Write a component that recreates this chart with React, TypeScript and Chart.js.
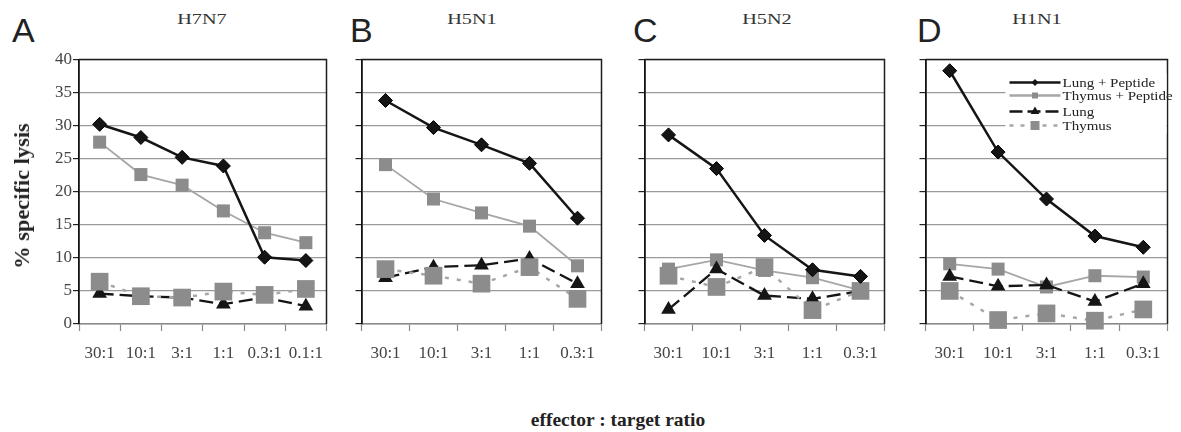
import React, { useEffect, useRef } from 'react';
import { Chart, registerables } from 'chart.js';

Chart.register(...registerables);

// Effector : target ratios
const ratiosH7N7 = ['30:1', '10:1', '3:1', '1:1', '0.3:1', '0.1:1'];
const ratiosOther = ['30:1', '10:1', '3:1', '1:1', '0.3:1'];

const yTicks = [0, 5, 10, 15, 20, 25, 30, 35, 40];

const seriesNames = ['Lung + Peptide', 'Thymus + Peptide', 'Lung', 'Thymus'];

// % specific lysis, H7N7
const h7n7LungPeptide = [30.2, 28.2, 25.2, 23.9, 10.1, 9.6];
const h7n7ThymusPeptide = [27.5, 22.6, 21.0, 17.1, 13.8, 12.3];
const h7n7Lung = [4.6, 4.2, 4.0, 3.0, 4.0, 2.7];
const h7n7Thymus = [6.4, 4.2, 4.0, 4.9, 4.4, 5.3];

// % specific lysis, H5N1
const h5n1LungPeptide = [33.8, 29.7, 27.1, 24.3, 16.0];
const h5n1ThymusPeptide = [24.1, 18.9, 16.8, 14.8, 8.8];
const h5n1Lung = [7.0, 8.6, 8.9, 9.9, 6.1];
const h5n1Thymus = [8.3, 7.3, 6.1, 8.6, 3.8];

// % specific lysis, H5N2
const h5n2LungPeptide = [28.6, 23.5, 13.4, 8.2, 7.2];
const h5n2ThymusPeptide = [8.3, 9.7, 8.1, 7.0, 5.1];
const h5n2Lung = [2.2, 8.3, 4.3, 3.8, 5.0];
const h5n2Thymus = [7.3, 5.6, 8.6, 2.1, 5.0];

// % specific lysis, H1N1
const h1n1LungPeptide = [38.3, 26.0, 18.9, 13.3, 11.6];
const h1n1ThymusPeptide = [9.1, 8.3, 5.6, 7.3, 7.1];
const h1n1Lung = [7.2, 5.7, 5.9, 3.4, 6.1];
const h1n1Thymus = [5.0, 0.6, 1.6, 0.5, 2.2];

type Panel = {
  letter: string;
  title: string;
  labels: string[];
  lungPeptide: number[];
  thymusPeptide: number[];
  lung: number[];
  thymus: number[];
  left: number;
  right: number;
  letterX: number;
  titleX: number;
  showYLabels: boolean;
  showLegend: boolean;
};

const panels: Panel[] = [
  { letter: 'A', title: 'H7N7', labels: ratiosH7N7, lungPeptide: h7n7LungPeptide, thymusPeptide: h7n7ThymusPeptide, lung: h7n7Lung, thymus: h7n7Thymus, left: 79, right: 333, letterX: 12, titleX: 202, showYLabels: true, showLegend: false },
  { letter: 'B', title: 'H5N1', labels: ratiosOther, lungPeptide: h5n1LungPeptide, thymusPeptide: h5n1ThymusPeptide, lung: h5n1Lung, thymus: h5n1Thymus, left: 359, right: 608, letterX: 350, titleX: 472, showYLabels: false, showLegend: false },
  { letter: 'C', title: 'H5N2', labels: ratiosOther, lungPeptide: h5n2LungPeptide, thymusPeptide: h5n2ThymusPeptide, lung: h5n2Lung, thymus: h5n2Thymus, left: 642, right: 891, letterX: 633, titleX: 767, showYLabels: false, showLegend: false },
  { letter: 'D', title: 'H1N1', labels: ratiosOther, lungPeptide: h1n1LungPeptide, thymusPeptide: h1n1ThymusPeptide, lung: h1n1Lung, thymus: h1n1Thymus, left: 923, right: 1174, letterX: 917, titleX: 1037, showYLabels: false, showLegend: true },
];

const PLOT_TOP = 57;
const PLOT_BOTTOM = 324;
const PAD_TOP = 10;
const PAD_RIGHT = 6;
const X_AXIS_H = 60;

const BLACK = '#151515';
const GRAY = '#8c8c8c';
const LIGHT_GRAY = '#a6a6a6';

// Dark frame along the top and right edges of the plot area
const framePlugin = {
  id: 'frame',
  beforeDatasetsDraw(chart: any) {
    const { ctx, chartArea: a } = chart;
    ctx.save();
    ctx.strokeStyle = '#1e1e1e';
    ctx.lineWidth = 1.5;
    ctx.beginPath();
    ctx.moveTo(a.left, a.top);
    ctx.lineTo(a.right, a.top);
    ctx.lineTo(a.right, a.bottom);
    ctx.stroke();
    ctx.restore();
  },
};

function drawMarker(ctx: CanvasRenderingContext2D, style: string, x: number, y: number, r: number) {
  ctx.beginPath();
  if (style === 'rectRot') {
    ctx.moveTo(x, y - r);
    ctx.lineTo(x + r, y);
    ctx.lineTo(x, y + r);
    ctx.lineTo(x - r, y);
  } else if (style === 'triangle') {
    ctx.moveTo(x, y - r);
    ctx.lineTo(x + r * 0.87, y + r * 0.5);
    ctx.lineTo(x - r * 0.87, y + r * 0.5);
  } else {
    ctx.rect(x - r, y - r, 2 * r, 2 * r);
  }
  ctx.closePath();
  ctx.fill();
}

// Legend box inside the H1N1 panel
const insideLegendPlugin = {
  id: 'insideLegend',
  afterDatasetsDraw(chart: any) {
    const opts = chart.options.plugins.insideLegend;
    if (!opts || !opts.show) return;
    const { ctx, chartArea: a } = chart;
    const boxL = a.left + 80;
    const boxT = a.top + 14;
    ctx.save();
    ctx.fillStyle = '#ffffff';
    ctx.fillRect(boxL, boxT, a.right - 1 - boxL, 60);
    const rows = [
      { dy: 23, color: BLACK, dash: [], width: 2.4, marker: 'rectRot', mColor: BLACK, r: 3.5 },
      { dy: 36, color: LIGHT_GRAY, dash: [], width: 2.4, marker: 'rect', mColor: GRAY, r: 3 },
      { dy: 52, color: BLACK, dash: [13, 5], width: 2.4, marker: 'triangle', mColor: BLACK, r: 5 },
      { dy: 66, color: LIGHT_GRAY, dash: [4, 7], width: 2.4, marker: 'rect', mColor: GRAY, r: 4.5 },
    ];
    const x0 = a.left + 84;
    const x1 = a.left + 135;
    rows.forEach((row, i) => {
      const y = a.top + row.dy;
      ctx.strokeStyle = row.color;
      ctx.lineWidth = row.width;
      ctx.setLineDash(row.dash);
      ctx.beginPath();
      ctx.moveTo(x0, y);
      ctx.lineTo(x1, y);
      ctx.stroke();
      ctx.setLineDash([]);
      ctx.fillStyle = row.mColor;
      drawMarker(ctx, row.marker, (x0 + x1) / 2, y, row.r);
      ctx.save();
      ctx.translate(x1 + 2, y);
      ctx.scale(1.2, 1);
      ctx.fillStyle = '#222';
      ctx.font = '12.5px "Liberation Serif", "Times New Roman", serif';
      ctx.textBaseline = 'middle';
      ctx.fillText(seriesNames[i], 0, 1);
      ctx.restore();
    });
    ctx.restore();
  },
};

function PanelChart({ panel }: { panel: Panel }) {
  const ref = useRef<HTMLCanvasElement | null>(null);
  const yAxisW = panel.showYLabels ? panel.left : 10;
  const canvasLeft = panel.left - yAxisW;
  const width = panel.right - canvasLeft + PAD_RIGHT;
  const height = PAD_TOP + (PLOT_BOTTOM - PLOT_TOP) + X_AXIS_H;

  useEffect(() => {
    if (!ref.current) return;
    const chart = new Chart(ref.current, {
      type: 'line',
      data: {
        labels: panel.labels,
        datasets: [
          {
            label: seriesNames[0],
            data: panel.lungPeptide,
            borderColor: BLACK,
            backgroundColor: BLACK,
            borderWidth: 2.5,
            pointStyle: 'rectRot',
            pointRadius: 7,
            pointBorderWidth: 1,
            pointBorderColor: '#000',
            order: 0,
            clip: false,
          },
          {
            label: seriesNames[3],
            data: panel.thymus,
            borderColor: LIGHT_GRAY,
            backgroundColor: GRAY,
            borderWidth: 2.5,
            borderDash: [4, 8],
            pointStyle: 'rect',
            pointRadius: 12.5,
            pointBorderWidth: 0,
            pointBorderColor: GRAY,
            order: 1,
            clip: false,
          },
          {
            label: seriesNames[2],
            data: panel.lung,
            borderColor: BLACK,
            backgroundColor: BLACK,
            borderWidth: 2.3,
            borderDash: [14, 6],
            pointStyle: 'triangle',
            pointRadius: 8.5,
            pointBorderWidth: 0,
            order: 2,
            clip: false,
          },
          {
            label: seriesNames[1],
            data: panel.thymusPeptide,
            borderColor: LIGHT_GRAY,
            backgroundColor: GRAY,
            borderWidth: 1.8,
            pointStyle: 'rect',
            pointRadius: 9.2,
            pointBorderWidth: 0,
            order: 3,
            clip: false,
          },
        ],
      },
      options: {
        responsive: false,
        animation: false,
        devicePixelRatio: 1,
        layout: { padding: { top: PAD_TOP, right: PAD_RIGHT, left: 0, bottom: 0 } },
        plugins: {
          legend: { display: false },
          tooltip: { enabled: false },
          title: { display: false },
          insideLegend: { show: panel.showLegend },
        } as any,
        scales: {
          x: {
            type: 'category',
            offset: true,
            grid: {
              offset: true,
              drawOnChartArea: false,
              tickLength: 7,
              tickColor: '#8a8a8a',
              tickWidth: 1.2,
            },
            border: { display: true, color: '#8a8a8a', width: 1.5 },
            ticks: {
              color: '#444',
              padding: 12,
              maxRotation: 0,
              autoSkip: false,
              font: { family: '"Liberation Serif", "Times New Roman", serif', size: 17 },
            },
            afterFit: (scale: any) => {
              scale.height = X_AXIS_H;
            },
          },
          y: {
            type: 'linear',
            min: 0,
            max: 40,
            afterBuildTicks: (scale: any) => {
              scale.ticks = yTicks.map((v) => ({ value: v }));
            },
            grid: {
              color: '#9a9a9a',
              lineWidth: 1.2,
              tickLength: 6,
              tickColor: '#222',
              tickWidth: 1.2,
            },
            border: { display: true, color: '#111', width: 1.8 },
            ticks: {
              color: '#444',
              padding: 1,
              font: { family: '"Liberation Serif", "Times New Roman", serif', size: 17 },
              callback: (v: any) => (panel.showYLabels ? String(v) : ''),
            },
            afterFit: (scale: any) => {
              scale.width = yAxisW;
            },
          },
        },
      },
      plugins: [framePlugin, insideLegendPlugin],
    });
    return () => chart.destroy();
  }, [panel, yAxisW]);

  return (
    <canvas
      ref={ref}
      width={width}
      height={height}
      style={{
        position: 'absolute',
        left: canvasLeft,
        top: PLOT_TOP - PAD_TOP,
        width,
        height,
      }}
    />
  );
}

const serif = '"Liberation Serif", "Times New Roman", serif';

export default function App() {
  return (
    <div
      style={{
        position: 'absolute',
        left: 0,
        top: 0,
        width: 1181,
        height: 432,
        background: '#ffffff',
        overflow: 'hidden',
      }}
    >
      {panels.map((p) => (
        <React.Fragment key={p.letter}>
          <div
            style={{
              position: 'absolute',
              left: p.letterX,
              top: 12.5,
              fontFamily: '"Liberation Sans", Arial, sans-serif',
              fontSize: 34,
              lineHeight: '34px',
              color: '#222',
            }}
          >
            {p.letter}
          </div>
          <div
            style={{
              position: 'absolute',
              left: p.titleX,
              top: 12.3,
              fontFamily: serif,
              fontSize: 15,
              lineHeight: '15px',
              color: '#333',
              whiteSpace: 'nowrap',
              transform: 'translateX(-50%) scaleX(1.35)',
            }}
          >
            {p.title}
          </div>
          <PanelChart panel={p} />
        </React.Fragment>
      ))}
      <div
        style={{
          position: 'absolute',
          left: 22,
          top: 196,
          fontFamily: serif,
          fontWeight: 'bold',
          fontSize: 20,
          lineHeight: '20px',
          color: '#222',
          whiteSpace: 'nowrap',
          transform: 'translate(-50%, -50%) rotate(-90deg) scaleX(1.12)',
        }}
      >
        % specific lysis
      </div>
      <div
        style={{
          position: 'absolute',
          left: 618,
          top: 420,
          fontFamily: serif,
          fontWeight: 'bold',
          fontSize: 19.5,
          lineHeight: '20px',
          color: '#222',
          whiteSpace: 'nowrap',
          transform: 'translate(-50%, -50%)',
        }}
      >
        effector : target ratio
      </div>
    </div>
  );
}
